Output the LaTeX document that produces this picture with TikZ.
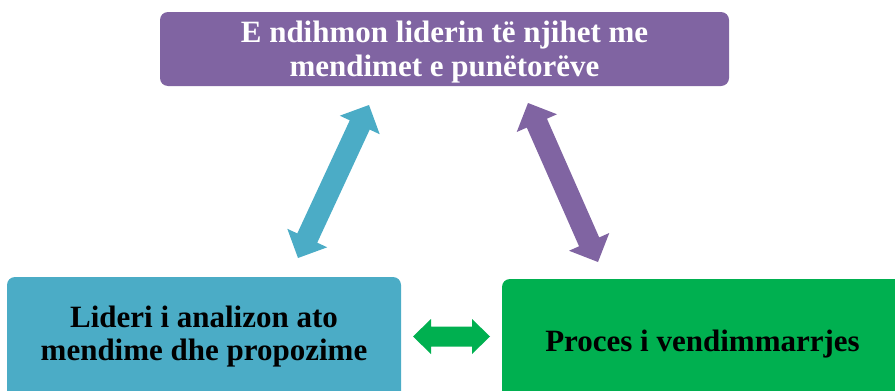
\documentclass[tikz,border=0pt]{standalone}
\usepackage{fontspec}
\setmainfont{Liberation Serif}
\usetikzlibrary{calc}
\definecolor{cpurple}{HTML}{8064A2}
\definecolor{cblue}{HTML}{4BACC6}
\definecolor{cgreen}{HTML}{00B050}
\tikzset{
  txt/.style={font=\bfseries\fontsize{31}{34}\selectfont, inner sep=0pt, anchor=base}
}
% #1 tip A, #2 tip B, #3 shaft half width, #4 head half width, #5 head length, #6 colour
\newcommand\dblarrow[6]{%
  \fill[#6] (#1)
    -- ($(#1)!#5!(#2)!#4!90:(#2)$)
    -- ($(#1)!#5!(#2)!#3!90:(#2)$)
    -- ($(#2)!#5!(#1)!#3!-90:(#1)$)
    -- ($(#2)!#5!(#1)!#4!-90:(#1)$)
    -- (#2)
    -- ($(#2)!#5!(#1)!#4!90:(#1)$)
    -- ($(#2)!#5!(#1)!#3!90:(#1)$)
    -- ($(#1)!#5!(#2)!#3!-90:(#2)$)
    -- ($(#1)!#5!(#2)!#4!-90:(#2)$)
    -- cycle;}
\begin{document}
\begin{tikzpicture}[x=1pt,y=-1pt]
\useasboundingbox (0,0) rectangle (895,391);
\clip (0,0) rectangle (895,391);
% boxes
\fill[cpurple, rounded corners=8pt] (160,12) rectangle (729,86);
\fill[cblue, rounded corners=8pt] (7,277) rectangle (401,405);
\fill[cgreen, rounded corners=8pt] (502,279) rectangle (910,405);
% texts
\node[txt, text=white] (top1) at (444.5,42) {E ndihmon liderin të njihet me};
\node[txt, text=white] (top2) at (444.5,76.5) {mendimet e punëtorëve};
\node[txt, text=black] (left1) at (204,327.3) {Lideri i analizon ato};
\node[txt, text=black] (left2) at (204,360.7) {mendime dhe propozime};
\node[txt, text=black] (right1) at (702.5,351.5) {Proces i vendimmarrjes};
% arrows
\coordinate (ba) at (298,258);
\coordinate (bb) at (369,105);
\coordinate (pa) at (528,103);
\coordinate (pb) at (598,262);
\coordinate (ga) at (413,336.5);
\coordinate (gb) at (490,336.5);
\dblarrow{ba}{bb}{11pt}{22pt}{22pt}{cblue}
\dblarrow{pa}{pb}{11pt}{22pt}{22pt}{cpurple}
\dblarrow{ga}{gb}{10pt}{17.5pt}{18pt}{cgreen}
\end{tikzpicture}
\end{document}
